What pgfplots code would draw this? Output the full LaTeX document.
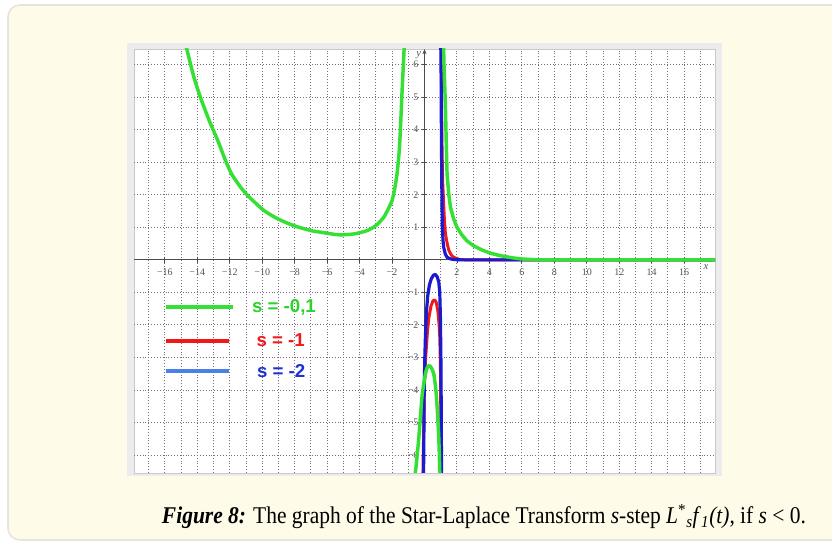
\documentclass[border=0pt]{standalone}
\usepackage{fontspec}
\setmainfont{Liberation Serif}
\newfontfamily\legfont{Liberation Sans}
\usepackage{graphicx}
\usepackage{pgfplots}
\pgfplotsset{compat=1.18}
\usetikzlibrary{arrows.meta}
\definecolor{panel}{HTML}{FEFBE9}
\definecolor{panelborder}{HTML}{E6E4DC}
\definecolor{chartgray}{HTML}{ECECEE}
\definecolor{plotborder}{HTML}{C8C8C8}
\definecolor{gridc}{HTML}{7E6884}
\definecolor{cgreen}{HTML}{33E033}
\definecolor{tgreen}{HTML}{2AD42A}
\definecolor{cred}{HTML}{F01818}
\definecolor{cblue}{HTML}{1A1AD0}
\definecolor{lblue}{HTML}{4A80E8}
\definecolor{tblue}{HTML}{1E32D2}
\definecolor{labgray}{HTML}{555555}
\begin{document}
\begin{tikzpicture}[x=1pt,y=1pt]
\useasboundingbox (0,0) rectangle (624,406.5);
\fill[white] (0,0) rectangle (624,406.5);
\begin{scope}
\clip (0,0) rectangle (624,406.5);
\draw[fill=panel, draw=panelborder, line width=1.2pt, rounded corners=9pt] (6,1.5) rectangle (640,402.75);
\end{scope}
\fill[chartgray] (95.25,49.5) rectangle (541.5,374.25);
\draw[fill=white, draw=plotborder, line width=0.5pt] (100.5,51.75) rectangle (536.25,369.75);
\begin{axis}[
  at={(100.5pt,51.75pt)}, anchor=south west,
  width=435.75pt, height=318pt, scale only axis,
  xmin=-17.9, xmax=17.9, ymin=-6.55, ymax=6.48,
  axis lines=middle,
  axis line style={draw=black!70, line width=0.7pt, -{Stealth[length=4pt,width=3pt]}},
  xtick={-16,-14,...,16},
  xticklabels={−16,−14,−12,−10,−8,−6,−4,−2,0,2,4,6,8,10,12,14,16},
  ytick={-6,-5,-4,-3,-2,-1,1,2,3,4,5,6},
  yticklabels={−6,−5,−4,−3,−2,−1,1,2,3,4,5,6},
  minor x tick num=1, minor y tick num=1,
  extra x ticks={-17,17}, extra x tick style={grid=major, tick style={draw=none}, ticklabel style={opacity=0}},
  grid=both,
  major grid style={draw=gridc, line width=0.7pt, dash pattern=on 0.75pt off 1.4pt},
  minor grid style={draw=gridc, line width=0.7pt, dash pattern=on 0.75pt off 1.4pt},
  major tick length=4pt, minor tick length=0pt, tick align=center,
  tick style={draw=black!70, line width=0.6pt},
  ticklabel style={font=\fontsize{7.5}{8}\selectfont, text=labgray},
  xticklabel style={yshift=-1pt},
  yticklabel style={xshift=1pt},
  clip=true,
]
% red s=-1
\addplot[cred, line width=2.2pt, line join=round] coordinates {
(-0.1,-6.7) (-0.08,-6.0) (-0.04,-5.0) (0.0,-3.8) (0.06,-3.1) (0.13,-2.58) (0.2,-2.1) (0.27,-1.77) (0.4,-1.42) (0.52,-1.26) (0.63,-1.23) (0.72,-1.3) (0.82,-1.56) (0.9,-2.0) (0.94,-2.38) (0.98,-3.2) (1.0,-4.5) (1.02,-6.7)};
\addplot[cred, line width=2.2pt, line join=round] coordinates {
(1.03,6.7) (1.05,5) (1.08,3.5) (1.12,2.4) (1.18,1.72) (1.23,1.2) (1.29,0.8) (1.4,0.5) (1.5,0.29) (1.65,0.15) (1.8,0.08) (2.1,0.02) (2.5,0) (17.9,0)};
% blue s=-2
\addplot[cblue, line width=2.4pt, line join=round] coordinates {
(-0.06,-6.7) (-0.04,-5.5) (-0.02,-4.0) (0.02,-3.0) (0.06,-2.3) (0.12,-1.6) (0.2,-1.1) (0.3,-0.78) (0.42,-0.58) (0.55,-0.47) (0.67,-0.45) (0.78,-0.52) (0.88,-0.68) (0.94,-1.0) (0.98,-1.77) (1.01,-3.0) (1.03,-4.5) (1.05,-6.7)};
\addplot[cblue, line width=2.4pt, line join=round] coordinates {
(1.0,6.7) (1.02,6.0) (1.04,4.0) (1.06,2.64) (1.08,1.6) (1.1,1.0) (1.14,0.6) (1.18,0.39) (1.28,0.18) (1.39,0.08) (1.6,0.03) (1.8,0.01) (2.2,0) (17.9,0)};
% green s=-0.1
\addplot[cgreen, line width=2.6pt, line join=round, smooth, tension=0.4] coordinates {
(-14.75,6.7) (-14.66,6.5) (-14.2,5.6) (-13.74,4.9) (-13.2,4.2) (-12.74,3.67) (-12.3,3.1) (-11.9,2.65) (-11.4,2.28) (-10.9,1.98) (-9.9,1.52) (-9,1.25) (-8.05,1.05) (-7,0.9) (-6.4,0.85) (-5.5,0.78) (-5.07,0.77) (-4.3,0.8) (-3.53,0.9) (-3,1.05) (-2.51,1.31) (-2.2,1.6) (-2.0,1.82) (-1.85,2.15) (-1.69,2.65) (-1.55,3.4) (-1.47,4.18) (-1.38,5.2) (-1.27,6.34) (-1.24,6.7)};
\addplot[cgreen, line width=2.6pt, line join=round] coordinates {
(1.17,6.7) (1.2,6.0) (1.25,5.3) (1.29,4.7) (1.34,3.6) (1.39,2.64) (1.5,2.0) (1.6,1.62) (1.8,1.25) (2.0,1.0) (2.3,0.77) (2.6,0.59) (3.0,0.44) (3.6,0.29) (4.1,0.2) (4.66,0.13) (5.3,0.07) (5.9,0.03) (7,0.0) (17.9,0)};
\addplot[cgreen, line width=2.6pt, line join=round, smooth, tension=0.4] coordinates {
(-0.62,-6.7) (-0.55,-6.48) (-0.45,-6.0) (-0.35,-5.46) (-0.25,-4.8) (-0.14,-4.13) (0.06,-3.5) (0.15,-3.33) (0.27,-3.25) (0.4,-3.3) (0.57,-3.5) (0.7,-4.0) (0.78,-4.54) (0.88,-5.46) (0.94,-6.48) (0.96,-6.7)};
% legend lines
\addplot[cgreen, line width=3pt] coordinates {(-15.94,-1.46) (-11.83,-1.46)};
\addplot[cred, line width=3pt] coordinates {(-15.94,-2.48) (-12.04,-2.48)};
\addplot[lblue, line width=3pt] coordinates {(-15.94,-3.43) (-12.04,-3.43)};
\node[text=tgreen, font=\legfont\bfseries\fontsize{14}{16}\selectfont] at (axis cs:-8.66,-1.46) {s = -0,1};
\node[text=cred, font=\legfont\bfseries\fontsize{14}{16}\selectfont] at (axis cs:-8.86,-2.48) {s = -1};
\node[text=tblue, font=\legfont\bfseries\fontsize{14}{16}\selectfont] at (axis cs:-8.83,-3.43) {s = -2};
\node[text=labgray, font=\fontsize{8}{9}\selectfont\itshape] at (axis cs:17.35,-0.22) {x};
\node[text=labgray, font=\fontsize{8}{9}\selectfont\itshape] at (axis cs:-0.35,6.28) {y};
\end{axis}
\node[anchor=base] at (363,13.5) {\resizebox{483pt}{\height}{\fontsize{18}{21}\selectfont\textbf{\textit{Figure 8:}} The graph of the Star-Laplace Transform \textit{s}-step \textit{L}\textsuperscript{*}\textsubscript{\textit{s}}\textit{f}\textsubscript{\textit{1}}\textit{(t)}, if \textit{s} < 0.}};
\end{tikzpicture}
\end{document}
